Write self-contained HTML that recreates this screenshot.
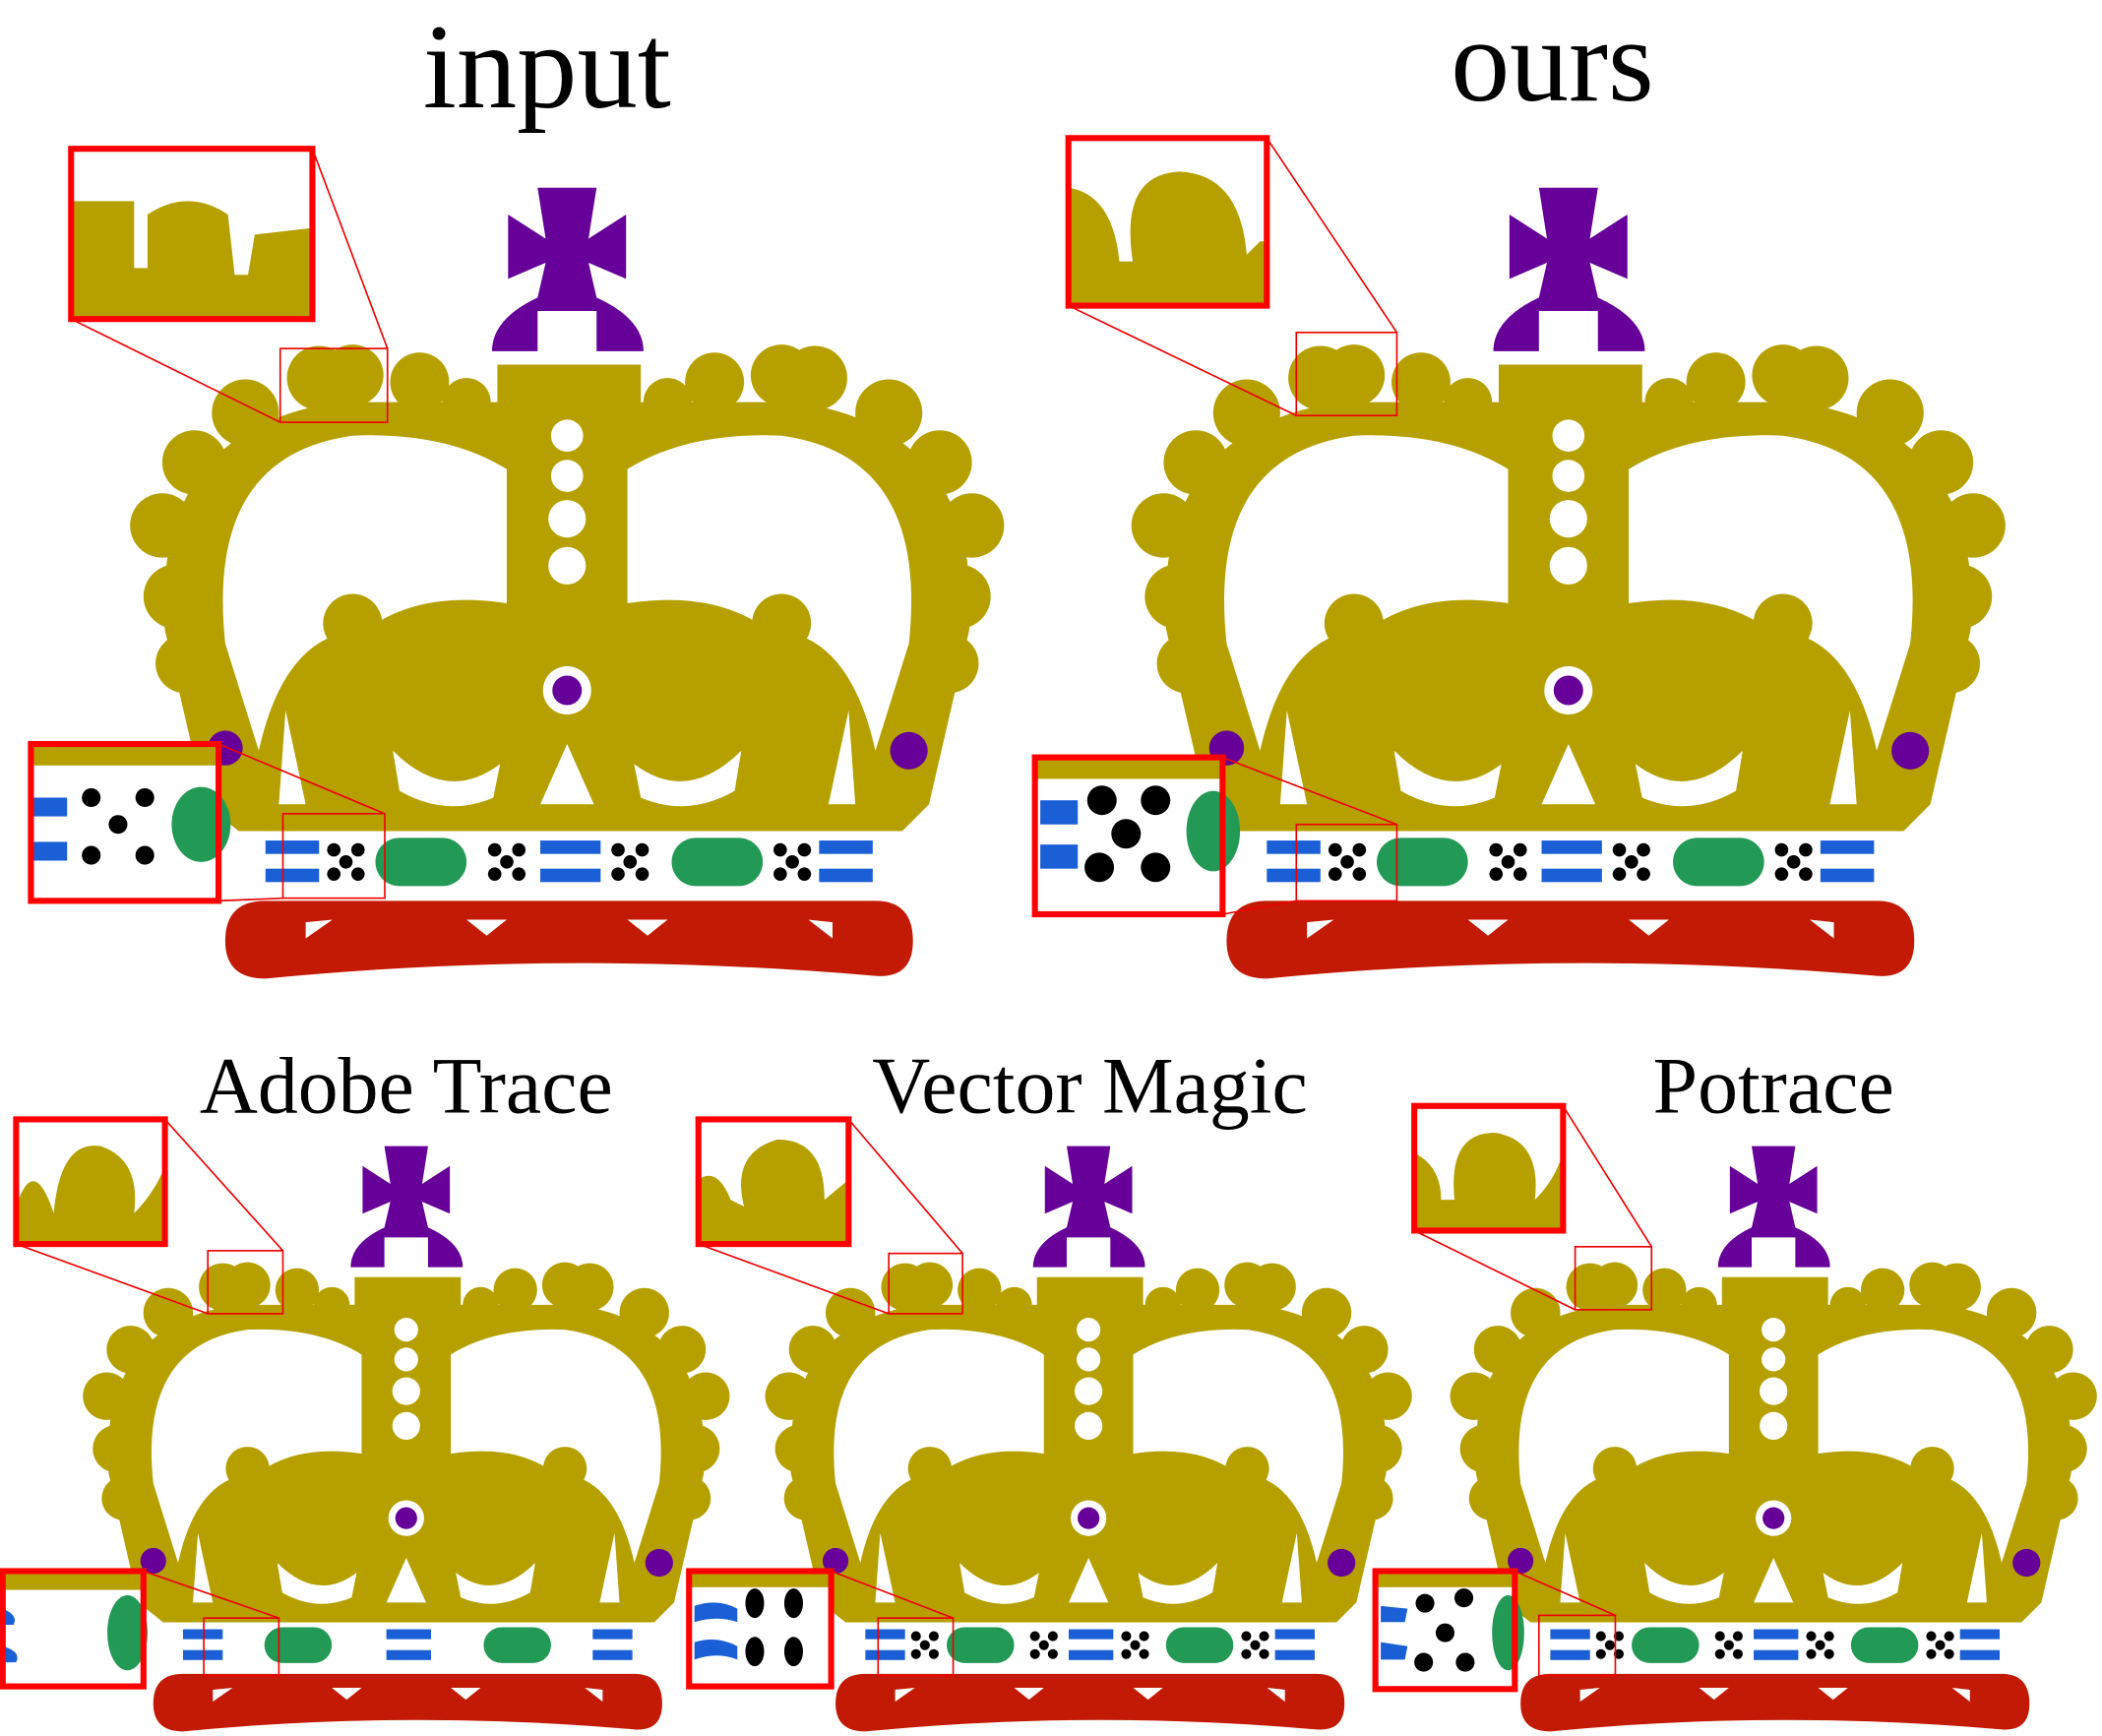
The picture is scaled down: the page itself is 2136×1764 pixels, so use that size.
<!DOCTYPE html>
<html><head><meta charset="utf-8"><style>
html,body{margin:0;padding:0;background:#fff;}
svg{display:block;}
text{font-family:"Liberation Serif",serif;fill:#000;}
</style></head><body>
<svg width="2136" height="1764" viewBox="0 0 1568 1295" xmlns="http://www.w3.org/2000/svg">
<defs>
<symbol id="dots" overflow="visible">
<circle cx="-9" cy="-9" r="5" fill="#000"/><circle cx="9" cy="-9" r="5" fill="#000"/><circle cx="0" cy="0" r="5" fill="#000"/><circle cx="-9" cy="9" r="5" fill="#000"/><circle cx="9" cy="9" r="5" fill="#000"/>
</symbol>
<symbol id="dotset" overflow="visible">
<use href="#dots" x="1005" y="643"/><use href="#dots" x="1125" y="643"/><use href="#dots" x="1217" y="643"/><use href="#dots" x="1338" y="643"/>
</symbol>
<symbol id="crown" overflow="visible">
<path d="M1148 140 L1192 140 L1186 178 L1214 160 L1214 208 L1186 196 L1192 222 Q1227 238 1227 262 L1192 262 L1192 232 L1148 232 L1148 262 L1114 262 Q1114 238 1148 222 L1154 196 L1126 208 L1126 160 L1154 178 Z" fill="#660099"/>
<g fill="#b5a000">
<rect x="1118" y="272" width="107" height="30"/>
<circle cx="878" cy="445" r="24"/><circle cx="868" cy="392" r="24"/><circle cx="892" cy="345" r="24"/>
<circle cx="930" cy="308" r="25"/><circle cx="985" cy="282" r="24"/><circle cx="1010" cy="280" r="23"/><circle cx="1060" cy="285" r="22"/><circle cx="1095" cy="300" r="18"/>
<circle cx="1462" cy="445" r="24"/><circle cx="1472" cy="392" r="24"/><circle cx="1448" cy="345" r="24"/>
<circle cx="1410" cy="308" r="25"/><circle cx="1355" cy="282" r="24"/><circle cx="1330" cy="280" r="23"/><circle cx="1280" cy="285" r="22"/><circle cx="1245" cy="300" r="18"/>
<circle cx="885" cy="495" r="22"/><circle cx="1455" cy="495" r="22"/>
<path d="M900 600 L870 470 Q860 320 1000 300 L1340 300 Q1480 320 1470 470 L1440 600 L1420 620 L925 620 Z"/>
</g>
<g fill="#fff">
<path d="M915 480 Q900 340 1010 325 Q1080 322 1125 350 L1125 450 Q1060 440 1020 470 Q960 470 940 560 Z"/>
<path d="M1425 480 Q1440 340 1330 325 Q1260 322 1215 350 L1215 450 Q1280 440 1320 470 Q1380 470 1400 560 Z"/>
<circle cx="1170" cy="325" r="12"/><circle cx="1170" cy="355" r="12"/><circle cx="1170" cy="387" r="14"/><circle cx="1170" cy="422" r="14"/>
<path d="M1150 600 L1190 600 L1170 555 Z"/>
<path d="M955 600 L975 600 L960 530 Z"/><path d="M1385 600 L1365 600 L1380 530 Z"/>
<path d="M1040 560 Q1080 600 1120 570 L1115 595 Q1080 610 1045 590 Z"/>
<path d="M1300 560 Q1260 600 1220 570 L1225 595 Q1260 610 1295 590 Z"/>
<circle cx="1170" cy="515" r="18"/>
</g>
<g fill="#b5a000">
<circle cx="1010" cy="465" r="22"/><circle cx="1330" cy="465" r="22"/>
<circle cx="985" cy="510" r="20"/><circle cx="1040" cy="505" r="20"/><circle cx="1300" cy="505" r="20"/><circle cx="1355" cy="510" r="20"/>
</g>
<circle cx="1170" cy="515" r="11" fill="#660099"/>
<circle cx="915" cy="558" r="13" fill="#660099"/><circle cx="1425" cy="560" r="14" fill="#660099"/>
<rect x="940" y="620" width="460" height="45" fill="#fff"/>
<g fill="#1a5fd6">
<rect x="945" y="627" width="40" height="10"/><rect x="945" y="648" width="40" height="10"/>
<rect x="1150" y="627" width="45" height="10"/><rect x="1150" y="648" width="45" height="10"/>
<rect x="1358" y="627" width="40" height="10"/><rect x="1358" y="648" width="40" height="10"/>
</g>
<g fill="#229955"><rect x="1027" y="625" width="68" height="36" rx="18"/><rect x="1248" y="625" width="68" height="36" rx="18"/></g>
<path d="M915 702 Q915 672 945 672 L1400 672 Q1428 672 1428 702 Q1428 730 1400 728 Q1170 708 945 730 Q915 730 915 702 Z" fill="#c21a05"/>
<g fill="#fff"><path d="M975 688 L995 686 L975 700 Z"/><path d="M1095 686 L1125 686 L1110 698 Z"/><path d="M1215 686 L1245 686 L1230 698 Z"/><path d="M1350 686 L1368 688 L1368 700 Z"/></g>
</symbol>
</defs>

<text x="408" y="80" font-size="90" text-anchor="middle">input</text>
<text x="1158" y="75" font-size="88" text-anchor="middle">ours</text>
<text x="303" y="830" font-size="60" text-anchor="middle">Adobe Trace</text>
<text x="813" y="830" font-size="60" text-anchor="middle">Vector Magic</text>
<text x="1323" y="830" font-size="60" text-anchor="middle">Potrace</text>

<use href="#crown" transform="translate(-747,0)"/><use href="#dotset" transform="translate(-747,0)"/>
<use href="#crown"/><use href="#dotset"/>
<use href="#crown" transform="translate(-562.8,751.4) scale(0.74)"/>
<use href="#crown" transform="translate(-53.8,751.4) scale(0.74)"/><use href="#dotset" transform="translate(-53.8,751.4) scale(0.74)"/>
<use href="#crown" transform="translate(457.2,751.4) scale(0.74)"/><use href="#dotset" transform="translate(457.2,751.4) scale(0.74)"/>

<g fill="none" stroke="#e00" stroke-width="1.2">
<rect x="209" y="260" width="80" height="55"/><line x1="233" y1="111" x2="289" y2="260"/><line x1="53" y1="238" x2="209" y2="315"/>
<rect x="211" y="607" width="76" height="63"/><line x1="163" y1="555" x2="287" y2="607"/><line x1="163" y1="672" x2="211" y2="670"/>
<rect x="967" y="248" width="75" height="62"/><line x1="945" y1="103" x2="1042" y2="248"/><line x1="797" y1="228" x2="967" y2="310"/>
<rect x="967" y="615" width="75" height="57"/><line x1="912" y1="565" x2="1042" y2="615"/><line x1="912" y1="682" x2="967" y2="672"/>
<rect x="155" y="933" width="56" height="47"/><line x1="123" y1="835" x2="211" y2="933"/><line x1="12" y1="928" x2="155" y2="980"/>
<rect x="152" y="1207" width="56" height="43"/><line x1="107" y1="1172" x2="208" y2="1207"/>
<rect x="663" y="935" width="55" height="45"/><line x1="633" y1="835" x2="718" y2="935"/><line x1="521" y1="928" x2="663" y2="980"/>
<rect x="655" y="1207" width="56" height="43"/><line x1="620" y1="1172" x2="711" y2="1207"/>
<rect x="1175" y="930" width="57" height="47"/><line x1="1166" y1="825" x2="1232" y2="930"/><line x1="1055" y1="918" x2="1175" y2="977"/>
<rect x="1148" y="1205" width="57" height="45"/><line x1="1130" y1="1172" x2="1205" y2="1205"/>
</g>

<g>
<rect x="53" y="111" width="180" height="127" fill="#fff"/>
<path d="M55 150 L100 150 L100 200 L110 200 L110 160 Q140 140 170 160 L175 205 L185 205 L190 175 L233 170 L233 238 L55 238 Z" fill="#b5a000"/>
<rect x="797" y="103" width="148" height="125" fill="#fff"/>
<path d="M797 140 Q830 145 835 195 L845 195 Q835 130 880 128 Q925 130 930 190 L940 180 L945 180 L945 228 L797 228 Z" fill="#b5a000"/>
<rect x="12" y="835" width="111" height="93" fill="#fff"/>
<path d="M12 900 Q25 860 40 905 Q45 850 75 855 Q105 865 100 905 Q115 890 123 870 L123 928 L12 928 Z" fill="#b5a000"/>
<rect x="521" y="835" width="112" height="93" fill="#fff"/>
<path d="M521 880 Q535 870 545 895 L555 900 Q545 860 580 850 Q615 850 615 895 L633 880 L633 928 L521 928 Z" fill="#b5a000"/>
<rect x="1055" y="825" width="111" height="93" fill="#fff"/>
<path d="M1055 860 Q1075 870 1075 895 L1085 895 Q1080 845 1115 845 Q1150 850 1145 895 Q1160 880 1166 860 L1166 918 L1055 918 Z" fill="#b5a000"/>
</g>
<g>
<rect x="23" y="555" width="140" height="117" fill="#fff"/>
<rect x="23" y="557" width="140" height="14" fill="#b5a000"/>
<rect x="25" y="595" width="25" height="14" fill="#1a5fd6"/><rect x="25" y="628" width="25" height="14" fill="#1a5fd6"/>
<ellipse cx="150" cy="615" rx="22" ry="28" fill="#229955"/>
<g fill="#000"><circle cx="68" cy="595" r="7"/><circle cx="108" cy="595" r="7"/><circle cx="88" cy="615" r="7"/><circle cx="68" cy="638" r="7"/><circle cx="108" cy="638" r="7"/></g>
<rect x="772" y="565" width="140" height="117" fill="#fff"/>
<rect x="772" y="567" width="140" height="14" fill="#b5a000"/>
<rect x="776" y="597" width="28" height="18" fill="#1a5fd6"/><rect x="776" y="630" width="28" height="18" fill="#1a5fd6"/>
<ellipse cx="905" cy="620" rx="20" ry="30" fill="#229955"/>
<g fill="#000"><circle cx="822" cy="597" r="11"/><circle cx="862" cy="597" r="11"/><circle cx="840" cy="622" r="11"/><circle cx="820" cy="647" r="11"/><circle cx="862" cy="647" r="11"/></g>
<rect x="2" y="1172" width="105" height="86" fill="#fff"/>
<rect x="2" y="1174" width="105" height="12" fill="#b5a000"/>
<path d="M2 1200 Q14 1205 10 1212 L2 1212 Z M2 1228 Q16 1232 12 1240 L2 1240 Z" fill="#1a5fd6"/>
<ellipse cx="95" cy="1218" rx="15" ry="28" fill="#229955"/>
<rect x="514" y="1172" width="106" height="86" fill="#fff"/>
<rect x="514" y="1174" width="106" height="10" fill="#b5a000"/>
<path d="M518 1198 Q535 1192 550 1200 L550 1210 Q535 1205 518 1210 Z M518 1225 Q535 1220 550 1228 L550 1238 Q535 1232 518 1238 Z" fill="#1a5fd6"/>
<g fill="#000"><ellipse cx="563" cy="1196" rx="7" ry="11"/><ellipse cx="592" cy="1196" rx="7" ry="11"/><ellipse cx="563" cy="1232" rx="7" ry="11"/><ellipse cx="592" cy="1232" rx="7" ry="11"/></g>
<rect x="1026" y="1172" width="104" height="88" fill="#fff"/>
<rect x="1026" y="1174" width="104" height="10" fill="#b5a000"/>
<path d="M1030 1198 L1050 1200 L1048 1210 L1030 1210 Z M1030 1225 L1050 1228 L1048 1238 L1030 1238 Z" fill="#1a5fd6"/>
<ellipse cx="1125" cy="1218" rx="12" ry="28" fill="#229955"/>
<g fill="#000"><circle cx="1063" cy="1196" r="7"/><circle cx="1092" cy="1192" r="7"/><circle cx="1078" cy="1218" r="7"/><circle cx="1062" cy="1240" r="7"/><circle cx="1093" cy="1240" r="7"/></g>
</g>
<g fill="none" stroke="#f00" stroke-width="4.5">
<rect x="53" y="111" width="180" height="127"/><rect x="23" y="555" width="140" height="117"/>
<rect x="797" y="103" width="148" height="125"/><rect x="772" y="565" width="140" height="117"/>
<rect x="12" y="835" width="111" height="93"/><rect x="2" y="1172" width="105" height="86"/>
<rect x="521" y="835" width="112" height="93"/><rect x="514" y="1172" width="106" height="86"/>
<rect x="1055" y="825" width="111" height="93"/><rect x="1026" y="1172" width="104" height="88"/>
</g>
</svg>
</body></html>
